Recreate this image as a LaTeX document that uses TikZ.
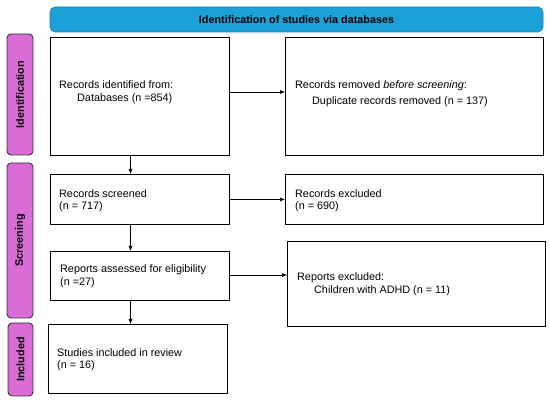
\documentclass[tikz,border=0pt]{standalone}
\usepackage{fontspec}
\setmainfont{Liberation Sans}
\usetikzlibrary{arrows.meta}
\definecolor{hdrblue}{HTML}{1BA0D8}
\definecolor{sidepink}{HTML}{D96CD6}
\begin{document}
\begin{tikzpicture}[x=1pt,y=-1pt,
  box/.style={draw=black,line width=0.9pt,fill=white},
  side/.style={draw=black!80,line width=0.9pt,fill=sidepink,rounded corners=4pt},
  hdr/.style={draw=hdrblue!80!black,line width=0.6pt,fill=hdrblue,rounded corners=5pt},
  txt/.style={font=\fontsize{10.8}{13.5}\selectfont,anchor=west,inner sep=0pt},
  sidetxt/.style={font=\fontsize{10.8}{13}\selectfont\bfseries,rotate=90},
  arr/.style={-{Latex[length=5pt,width=4pt]},line width=0.6pt}]
\useasboundingbox (0,0) rectangle (550,403);
% header
\draw[hdr] (50,7) rectangle (543,32);
\node[font=\fontsize{10.8}{13}\selectfont\bfseries] (hdrt) at (296.5,19.5) {Identification of studies via databases};
% side bars
\draw[side] (7,34) rectangle (33,155);
\node[sidetxt] (sid) at (20,94.5) {Identification};
\draw[side] (7,163) rectangle (33,318);
\node[sidetxt] (sscr) at (20,240.5) {Screening};
\draw[side] (8,323) rectangle (33,396);
\node[sidetxt] (sinc) at (20.5,359.5) {Included};
% boxes
\node[box,minimum width=179pt,minimum height=118pt,anchor=north west] (b1) at (50,37) {};
\node[box,minimum width=258pt,minimum height=118pt,anchor=north west] (b2) at (285,37) {};
\node[box,minimum width=179pt,minimum height=50pt,anchor=north west] (b3) at (50,174) {};
\node[box,minimum width=258pt,minimum height=50pt,anchor=north west] (b4) at (285,174) {};
\node[box,minimum width=179pt,minimum height=49pt,anchor=north west] (b5) at (50,251) {};
\node[box,minimum width=258pt,minimum height=85pt,anchor=north west] (b6) at (287,241) {};
\node[box,minimum width=179pt,minimum height=69pt,anchor=north west] (b7) at (48,324) {};
% texts
\node[txt] (t1a) at (59,84.5) {Records identified from:};
\node[txt] (t1b) at (77,98.5) {Databases (n =854)};
\node[txt] (t2a) at (295,86) {Records removed \textit{before screening}:};
\node[txt] (t2b) at (312,102) {Duplicate records removed (n = 137)};
\node[txt] (t3a) at (59,193.5) {Records screened};
\node[txt] (t3b) at (59,206.5) {(n = 717)};
\node[txt] (t4a) at (295,193.5) {Records excluded};
\node[txt] (t4b) at (295,207) {(n = 690)};
\node[txt] (t5a) at (60,270) {Reports assessed for eligibility};
\node[txt] (t5b) at (60,282.5) {(n =27)};
\node[txt] (t6a) at (297,277.5) {Reports excluded:};
\node[txt] (t6b) at (314,290.5) {Children with ADHD (n = 11)};
\node[txt] (t7a) at (57,353) {Studies included in review};
\node[txt] (t7b) at (57,365.5) {(n = 16)};
% arrows
\coordinate (a1s) at (229,92);
\draw[arr] (b1.east |- a1s) -- (b2.west |- a1s);
\draw[arr] (b3.east) -- (b4.west);
\coordinate (a5s) at (229,275);
\draw[arr] (b5.east |- a5s) -- (b6.west |- a5s);
\coordinate (vx) at (130.5,0);
\draw[arr] (b1.south -| vx) -- (b3.north -| vx);
\draw[arr] (b3.south -| vx) -- (b5.north -| vx);
\draw[arr] (b5.south -| vx) -- (b7.north -| vx);
\end{tikzpicture}
\end{document}
